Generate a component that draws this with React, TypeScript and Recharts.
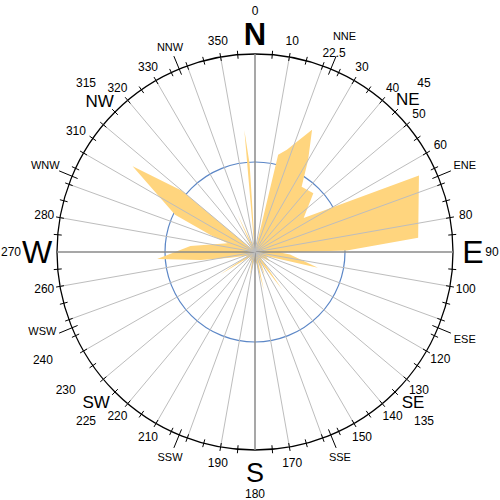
import React from 'react';
import { RadarChart, Radar, PolarGrid, PolarAngleAxis, PolarRadiusAxis } from 'recharts';

// Wind direction (degrees, clockwise from north) and frequency value
const windAngles = [0, 6, 11.5, 13.4, 17.3, 25, 30, 35.6, 44.8, 55, 65, 85, 89, 91, 94, 104, 110, 122, 130, 137, 144, 150, 157, 162, 167, 172, 180, 186, 192, 200, 210, 220, 230, 237, 243, 250, 257, 261.7, 265.9, 275.3, 287.8, 291, 295, 305, 310, 311, 316, 322, 328, 335, 340, 347, 352, 355, 356.5, 358];
const windValues = [0.7, 0.4, 0.3, 11.1, 11.9, 15.0, 11.8, 8.9, 9.2, 6.6, 20.1, 18.2, 10.2, 2.8, 3.9, 7.2, 1.3, 2.0, 0.9, 1.1, 5.1, 1.3, 2.8, 1.1, 4.4, 1.3, 1.1, 0.9, 2.7, 0.9, 1.3, 0.7, 1.1, 4.6, 0.9, 1.3, 2.8, 6.1, 10.9, 7.2, 3.2, 5.3, 9.8, 16.6, 10.6, 0.6, 0.7, 2.0, 0.7, 4.6, 0.9, 1.3, 0.4, 13.6, 9.8, 0.6];

const degreeLabels = [10, 30, 40, 50, 60, 80, 100, 120, 130, 140, 150, 170, 190, 210, 220, 230, 240, 260, 280, 310, 320, 330, 350];
const cardinalNames = ['N', 'E', 'S', 'W'];
const cardinalAngles = [0, 90, 180, 270];
const interNames = ['NE', 'SE', 'SW', 'NW'];
const interAngles = [45, 135, 225, 315];
const secondaryNames = ['NNE', 'ENE', 'ESE', 'SSE', 'SSW', 'WSW', 'WNW', 'NNW'];
const secondaryAngles = [22.5, 67.5, 112.5, 157.5, 202.5, 247.5, 292.5, 337.5];
const ringValue = 10;
const maxValue = 22;

const data = windAngles.map((a, i) => ({ angle: a, value: windValues[i] }));

const tickValues: number[] = [];
for (let a = 0; a < 360; a += 5) tickValues.push(a);
secondaryAngles.forEach((a) => tickValues.push(a));
tickValues.sort((a, b) => a - b);

const CX = 255;
const CY = 252;
const R = 198;
const FONT = '"Liberation Sans", Arial, Helvetica, sans-serif';

const pt = (deg: number, r: number) => ({
  x: CX + r * Math.sin((deg * Math.PI) / 180),
  y: CY - r * Math.cos((deg * Math.PI) / 180),
});

const labelTweak: Record<number, { r?: number; a?: number }> = {
  230: { a: 234, r: 234 },
  240: { a: 243, r: 238 },
  310: { a: 304, r: 216 },
};

function CompassTick(props: any) {
  const v = Number(props?.payload?.value);
  if (isNaN(v)) return null;
  const parts: React.ReactNode[] = [];
  const isCardinal = cardinalAngles.includes(v);
  const isSecondary = secondaryAngles.includes(v);
  if (v % 10 === 0) {
    const e = pt(v, R);
    parts.push(
      <line key="rad" x1={CX} y1={CY} x2={e.x} y2={e.y}
        stroke={isCardinal ? '#8a8a8a' : '#bdbdbd'} strokeWidth={isCardinal ? 1.5 : 1} />
    );
  }
  if (!isCardinal) {
    const inner = isSecondary ? pt(v, R - 6) : pt(v, R - 4);
    const outer = isSecondary ? pt(v, R + 14) : pt(v, R + 4);
    parts.push(
      <line key="tk" x1={inner.x} y1={inner.y} x2={outer.x} y2={outer.y} stroke="#000" strokeWidth={1} />
    );
  }
  if (degreeLabels.includes(v)) {
    const tw = labelTweak[v] || {};
    const p = pt(tw.a ?? v, tw.r ?? 214);
    parts.push(
      <text key="lb" x={p.x} y={p.y} textAnchor="middle" dominantBaseline="central"
        fontSize={12} fontFamily={FONT} fill="#000">{String(v)}</text>
    );
  }
  const ci = cardinalAngles.indexOf(v);
  if (ci >= 0) {
    const p = pt(v, v === 180 ? 221 : 218);
    const q = pt(v, v === 90 ? 237 : v === 180 ? 242 : v === 270 ? 244 : 241);
    parts.push(
      <text key="cn" x={p.x} y={p.y} textAnchor="middle" dominantBaseline="central"
        fontSize={v === 0 ? 31 : v === 180 ? 27 : 32} fontWeight={v === 0 ? 'bold' : 'normal'} fontFamily={FONT} fill="#000">{cardinalNames[ci]}</text>
    );
    parts.push(
      <text key="cd" x={q.x} y={q.y} textAnchor="middle" dominantBaseline="central"
        fontSize={12} fontFamily={FONT} fill="#000">{String(v)}</text>
    );
  }
  const ii = interAngles.indexOf(v);
  if (ii >= 0) {
    const p = v === 225 ? pt(226.5, 219) : v === 315 ? pt(314, 216) : v === 135 ? pt(133.5, 218) : pt(v, 216);
    const q = pt(v, 239);
    parts.push(
      <text key="in" x={p.x} y={p.y} textAnchor="middle" dominantBaseline="central"
        fontSize={17} fontFamily={FONT} fill="#000">{interNames[ii]}</text>
    );
    parts.push(
      <text key="id" x={q.x} y={q.y} textAnchor="middle" dominantBaseline="central"
        fontSize={12} fontFamily={FONT} fill="#000">{String(v)}</text>
    );
  }
  const si = secondaryAngles.indexOf(v);
  if (si >= 0) {
    const horiz = Math.abs(Math.sin((v * Math.PI) / 180)) > 0.7;
    const rr = v === 22.5 ? 234 : horiz ? 227 : 222;
    const aa = v === 247.5 ? 249.5 : v;
    const p = pt(aa, rr);
    parts.push(
      <text key="sn" x={p.x} y={p.y} textAnchor="middle" dominantBaseline="central"
        fontSize={11} fontFamily={FONT} fill="#000">{secondaryNames[si]}</text>
    );
    if (v === 22.5) {
      const q = pt(v - 0.8, 214);
      parts.push(
        <text key="sd" x={q.x} y={q.y} textAnchor="middle" dominantBaseline="central"
          fontSize={12} fontFamily={FONT} fill="#000">22.5</text>
      );
    }
  }
  return <g>{parts}</g>;
}

export default function App() {
  return (
    <div style={{ position: 'absolute', left: 0, top: 0, width: 500, height: 500, background: '#fff' }}>
      <RadarChart width={500} height={500} data={data} cx={CX} cy={CY} outerRadius={R} innerRadius={0}
        startAngle={90} endAngle={-270} margin={{ top: 0, right: 0, bottom: 0, left: 0 }}>
        <PolarGrid gridType="circle" radialLines={false} polarRadius={[(ringValue / maxValue) * R]}
          stroke="#5b86c6" strokeWidth={1.2} />
        <PolarRadiusAxis type="number" domain={[0, maxValue]} angle={90} tick={false} axisLine={false} />
        <Radar dataKey="value" fill="#ffd57e" fillOpacity={1} stroke="none" isAnimationActive={false} dot={false} />
        <PolarAngleAxis dataKey="angle" type="number" domain={[0, 360]} ticks={tickValues}
          tick={<CompassTick />} tickLine={false}
          axisLine={{ stroke: '#000', strokeWidth: 1.3 }} axisLineType="circle" />
      </RadarChart>
    </div>
  );
}
